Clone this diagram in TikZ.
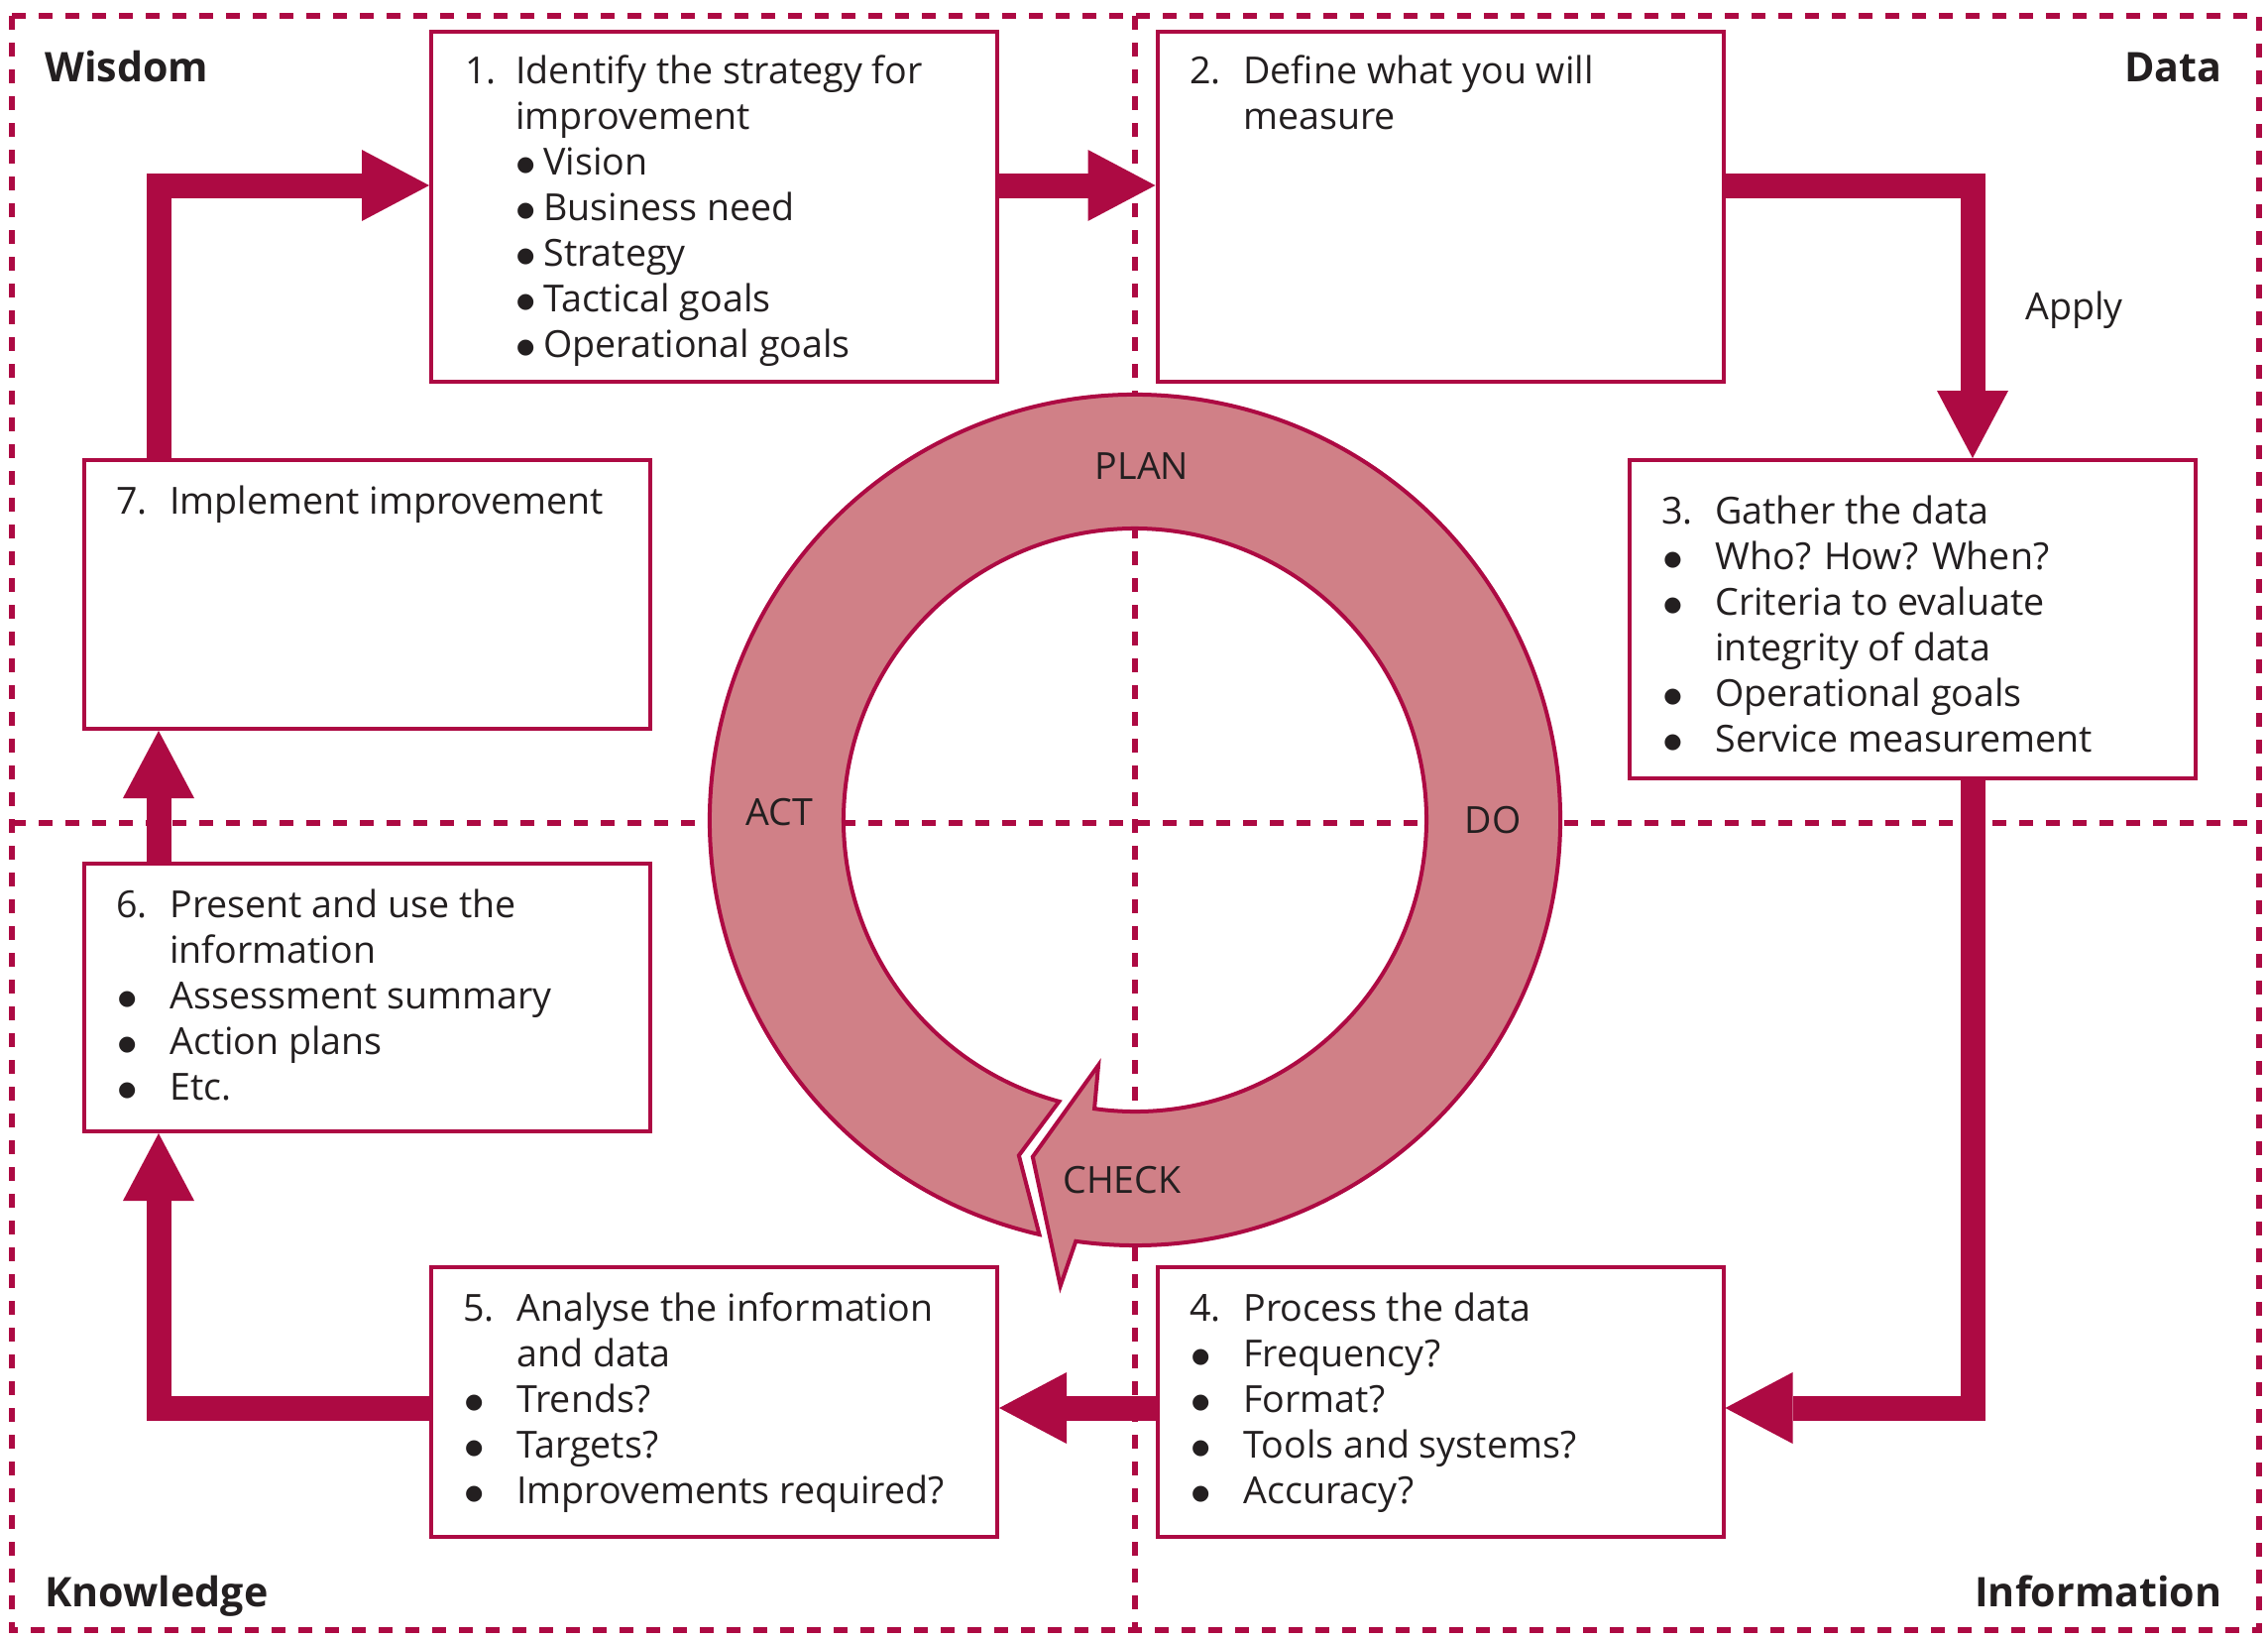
\documentclass[tikz,border=0pt]{standalone}
\usepackage{fontspec}
\setmainfont{Open Sans}
\newfontfamily\bulletfont{DejaVu Sans}
\usetikzlibrary{arrows.meta,calc}
\definecolor{crim}{RGB}{173,10,67}
\definecolor{ringfill}{RGB}{208,128,135}
\definecolor{ink}{RGB}{35,31,32}
\newcommand{\bulletmark}{\makebox[10pt][c]{\raisebox{1.6pt}{\fontsize{10.5}{11}\bulletfont ●}}}
\begin{document}
\begin{tikzpicture}[x=0.5pt,y=-0.5pt,
  box/.style={draw=crim, line width=2pt, fill=white, inner sep=0, minimum width=285.5pt},
  body/.style={font=\fontsize{18.8}{23}\selectfont, text=ink, inner sep=0},
  corner/.style={font=\fontsize{20.6}{25}\selectfont\bfseries, text=ink, inner sep=0},
  grid/.style={draw=crim, line width=2.6pt, dash pattern=on 7pt off 6.5pt},
  flow/.style={draw=crim, line width=12.5pt, line join=miter,
    -{Triangle[length=34pt,width=36pt,line width=0pt]}},
  ring/.style={draw=crim, fill=ringfill, line width=2pt, line join=miter},
]
\useasboundingbox (0,0) rectangle (2288,1655);

% quadrant grid
\draw[grid] (12,16) rectangle (2279,1644);
\draw[grid] (1145,16) -- (1145,1644);
\draw[grid] (12,830) -- (2279,830);

% PDCA ring
\begin{scope}[shift={(1145,827)}]
\draw[ring]
  (103:429) arc[start angle=103, end angle=458, radius=429]
  -- (99.1:476) -- (106.9:355) -- (98.5:250) -- (98:294)
  arc[start angle=458, end angle=105.1, radius=294]
  -- (109.1:358) -- cycle;
\end{scope}
\node[body, anchor=base] (plan) at (1152,483) {PLAN};
\node[body, anchor=base] (act) at (786,832) {ACT};
\node[body, anchor=base] (do) at (1506,840) {DO};
\node[body, anchor=base] (check) at (1132,1203) {CHECK};

% boxes
\node[box, minimum height=176.5pt] (b1) at (720.5,208.5) {};
\node[box, minimum height=176.5pt] (b2) at (1453,208.5) {};
\node[box, minimum height=160.5pt] (b3) at (1929,624.5) {};
\node[box, minimum height=136pt] (b4) at (1453,1414) {};
\node[box, minimum height=136pt] (b5) at (720.5,1414) {};
\node[box, minimum height=135pt] (b6) at (370,1006) {};
\node[box, minimum height=135.5pt] (b7) at (370,599.5) {};

% box texts
\node[body, anchor=base west] (t1) at (469,84) {\begin{tabular}[t]{@{}p{25.5pt}@{}l@{}}
1.&Identify the strategy for\\
&improvement\\
&\hspace{0pt}\bulletmark\hspace{4pt}Vision\\
&\hspace{0pt}\bulletmark\hspace{4pt}Business need\\
&\hspace{0pt}\bulletmark\hspace{4pt}Strategy\\
&\hspace{0pt}\bulletmark\hspace{4pt}Tactical goals\\
&\hspace{0pt}\bulletmark\hspace{4pt}Operational goals
\end{tabular}};
\node[body, anchor=base west] (t2) at (1200,84) {\begin{tabular}[t]{@{}p{27pt}@{}l@{}}
2.&Define what you will\\
&measure
\end{tabular}};
\node[body, anchor=base west] (t3) at (1676,528) {\begin{tabular}[t]{@{}p{27pt}@{}l@{}}
3.&Gather the data\\
\hspace{0.5pt}\bulletmark&Who? How? When?\\
\hspace{0.5pt}\bulletmark&Criteria to evaluate\\
&integrity of data\\
\hspace{0.5pt}\bulletmark&Operational goals\\
\hspace{0.5pt}\bulletmark&Service measurement
\end{tabular}};
\node[body, anchor=base west] (t4) at (1200,1332) {\begin{tabular}[t]{@{}p{27pt}@{}l@{}}
4.&Process the data\\
\hspace{0.5pt}\bulletmark&Frequency?\\
\hspace{0.5pt}\bulletmark&Format?\\
\hspace{0.5pt}\bulletmark&Tools and systems?\\
\hspace{0.5pt}\bulletmark&Accuracy?
\end{tabular}};
\node[body, anchor=base west] (t5) at (467,1332) {\begin{tabular}[t]{@{}p{27pt}@{}l@{}}
5.&Analyse the information\\
&and data\\
\hspace{0.5pt}\bulletmark&Trends?\\
\hspace{0.5pt}\bulletmark&Targets?\\
\hspace{0.5pt}\bulletmark&Improvements required?
\end{tabular}};
\node[body, anchor=base west] (t6) at (117,925) {\begin{tabular}[t]{@{}p{27pt}@{}l@{}}
6.&Present and use the\\
&information\\
\hspace{0.5pt}\bulletmark&Assessment summary\\
\hspace{0.5pt}\bulletmark&Action plans\\
\hspace{0.5pt}\bulletmark&Etc.
\end{tabular}};
\node[body, anchor=base west] (t7) at (117,518) {\begin{tabular}[t]{@{}p{27pt}@{}l@{}}
7.&Implement improvement
\end{tabular}};

% corner labels
\node[corner, anchor=base west] (wis) at (45,82) {Wisdom};
\node[corner, anchor=base east] (dat) at (2242,82) {Data};
\node[corner, anchor=base west] (kno) at (45,1620) {Knowledge};
\node[corner, anchor=base east] (inf) at (2242,1620) {Information};

% connectors
\coordinate (cA) at (160,187);
\coordinate (cC) at (1990,187);
\coordinate (cD) at (1990,1420);
\coordinate (cF) at (160,1420);
\draw[flow] (b7.north -| cA) -- (cA) -- (b1.west |- cA);
\draw[flow] (b1.east |- cA) -- (b2.west |- cA);
\draw[flow] (b2.east |- cC) -- (cC) -- (b3.north -| cC);
\draw[flow] (b3.south -| cD) -- (cD) -- (b4.east |- cD);
\draw[flow] (b4.west |- cD) -- (b5.east |- cD);
\draw[flow] (b5.west |- cF) -- (cF) -- (b6.south -| cF);
\draw[flow] (b6.north -| cF) -- (b7.south -| cF);
\node[body, anchor=base west] (apply) at (2043,322) {Apply};
\end{tikzpicture}
\end{document}
